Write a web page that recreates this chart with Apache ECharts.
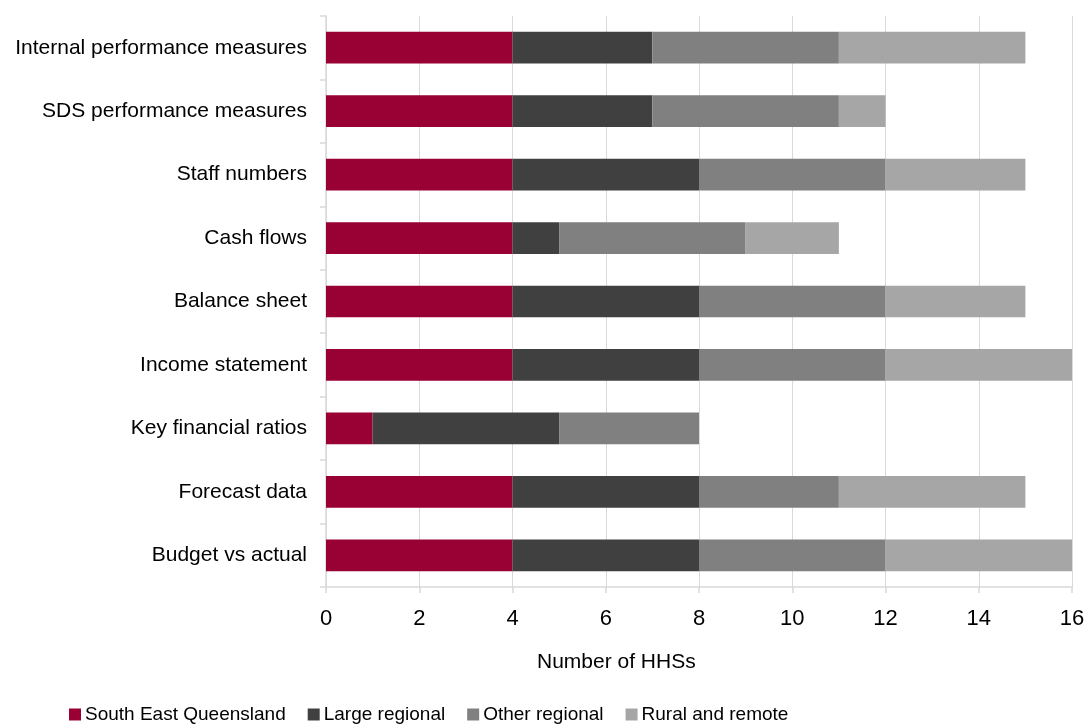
<!DOCTYPE html>
<html>
<head>
<meta charset="utf-8">
<script src="https://cdn.jsdelivr.net/npm/echarts@6/dist/echarts.min.js"></script>
<style>
  html, body { margin: 0; padding: 0; background: #fff; }
  #chart { width: 1088px; height: 725px; }
</style>
</head>
<body>
<div id="chart"></div>
<script>
// Reporting categories, listed bottom to top as drawn on the category axis
var categories = [
  'Budget vs actual',
  'Forecast data',
  'Key financial ratios',
  'Income statement',
  'Balance sheet',
  'Cash flows',
  'Staff numbers',
  'SDS performance measures',
  'Internal performance measures'
];

// Number of HHSs per region group (same order as categories)
var southEastQueensland = [4, 4, 1, 4, 4, 4, 4, 4, 4];
var largeRegional       = [4, 4, 4, 4, 4, 1, 4, 3, 3];
var otherRegional       = [4, 3, 3, 4, 4, 4, 4, 4, 4];
var ruralAndRemote      = [4, 4, 0, 4, 3, 2, 3, 1, 4];

var xTicks = [0, 2, 4, 6, 8, 10, 12, 14, 16];

var seriesDefs = [
  { name: 'South East Queensland', data: southEastQueensland, color: '#990033' },
  { name: 'Large regional',        data: largeRegional,       color: '#404040' },
  { name: 'Other regional',        data: otherRegional,       color: '#808080' },
  { name: 'Rural and remote',      data: ruralAndRemote,      color: '#a6a6a6' }
];

var font = 'Liberation Sans, Arial, sans-serif';
var chart = echarts.init(document.getElementById('chart'), null, { renderer: 'canvas' });

chart.setOption({
  animation: false,
  textStyle: { fontFamily: font },
  grid: { left: 326, right: 16, top: 16, bottom: 138, containLabel: false },
  legend: {
    left: 64,
    top: 700,
    itemWidth: 12,
    itemHeight: 12,
    itemGap: 22,
    icon: 'rect',
    textStyle: { fontSize: 19, color: '#000', fontFamily: font, padding: [0, 0, 0, -1] },
    data: seriesDefs.map(function (s) { return s.name; })
  },
  xAxis: {
    type: 'value',
    min: xTicks[0],
    max: xTicks[xTicks.length - 1],
    interval: xTicks[1] - xTicks[0],
    axisLine: { show: true, lineStyle: { color: '#d9d9d9', width: 1.5 } },
    axisTick: { show: true, length: 6, lineStyle: { color: '#d9d9d9', width: 1.5 } },
    axisLabel: { fontSize: 22, color: '#000', margin: 21, fontFamily: font },
    splitLine: { show: true, lineStyle: { color: '#d9d9d9', width: 1 } }
  },
  yAxis: {
    type: 'category',
    data: categories,
    axisLine: { show: true, lineStyle: { color: '#d9d9d9', width: 1.5 } },
    axisTick: { show: true, length: 6, lineStyle: { color: '#d9d9d9', width: 1.5 } },
    axisLabel: { fontSize: 21, color: '#000', margin: 19, fontFamily: font },
    splitLine: { show: false }
  },
  graphic: [{
    type: 'text',
    left: 537,
    top: 652,
    style: { text: 'Number of HHSs', fontSize: 21, fill: '#000', fontFamily: font }
  }],
  series: seriesDefs.map(function (s) {
    return {
      name: s.name,
      type: 'bar',
      stack: 'total',
      barWidth: '50%',
      data: s.data,
      itemStyle: { color: s.color },
      emphasis: { disabled: true }
    };
  })
});
</script>
</body>
</html>
